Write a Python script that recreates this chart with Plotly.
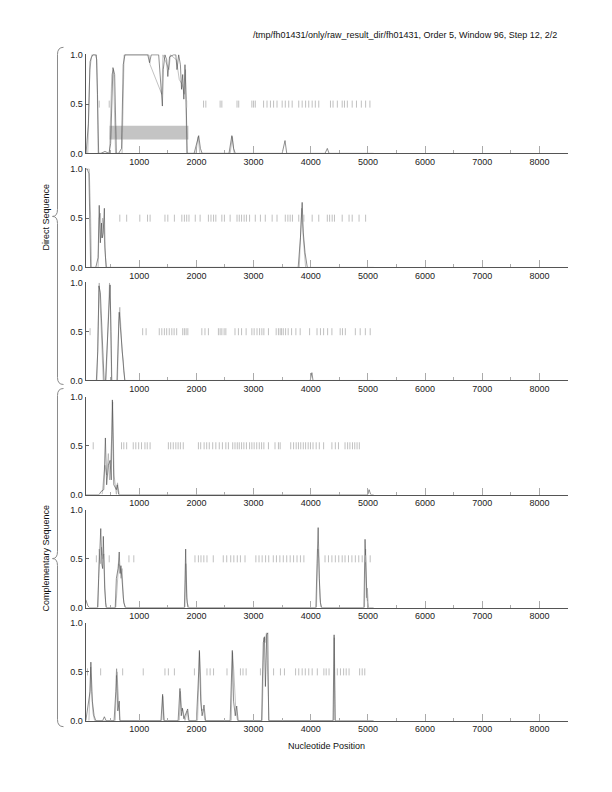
import plotly.graph_objects as go

# ---------------- data ----------------
title_text = "/tmp/fh01431/only/raw_result_dir/fh01431, Order 5, Window 96, Step 12, 2/2"
x_tick_vals = [1000, 2000, 3000, 4000, 5000, 6000, 7000, 8000]
x_tick_text = ["1000", "2000", "3000", "4000", "5000", "6000", "7000", "8000"]
x_minor_vals = [500, 1500, 2500, 3500, 4500, 5500, 6500, 7500]
y_tick_vals = [0.0, 0.5, 1.0]
y_tick_text = ["0.0", "0.5", "1.0"]
x_range = [60, 8500]

# panel 1 (direct, frame 1)
p1_black_x = [70, 110, 140, 160, 190, 250, 270, 290, 330, 400, 470, 500, 540, 570, 600, 640, 690, 720, 750, 1150, 1180, 1210, 1340, 1380, 1405, 1420, 1450, 1480, 1500, 1530, 1600, 1640, 1660, 1690, 1720, 1740, 1760, 1780, 1800, 1820, 1840, 1960, 2000, 2040, 2070, 2100, 2570, 2620, 2650, 2680, 3500, 3550, 3580, 4250, 4290, 4320, 5100]
p1_black_y = [0, 0.3, 0.93, 0.97, 1.0, 1.0, 0.6, 0, 0, 0.02, 0, 0.1, 0.87, 0.8, 0, 0, 0.05, 0.9, 1.0, 1.0, 0.92, 1.0, 1.0, 0.7, 0.48, 0.85, 1.0, 0.95, 0.78, 0.98, 1.0, 1.0, 0.85, 1.0, 0.9, 0.65, 0.8, 0.55, 0.9, 0.55, 0, 0, 0.1, 0.18, 0.05, 0, 0, 0.18, 0.05, 0, 0, 0.13, 0, 0, 0.05, 0, 0]
p1_gray_x = [100, 135, 170, 230, 260, 280, 480, 520, 550, 585, 700, 735, 1170, 1190, 1395, 1415, 1520, 1545, 1650, 1700, 1750, 1790, 1810, 1830, 1990, 2030, 2060, 2590, 2630, 2660]
p1_gray_y = [0, 0.85, 1.0, 1.0, 0.95, 0, 0, 0.8, 0.85, 0, 0, 1.0, 1.0, 0.9, 0.6, 1.0, 0.85, 1.0, 0.95, 0.75, 0.7, 0.6, 0.85, 0, 0, 0.17, 0, 0, 0.17, 0]
gene_x = [480, 1860]
gene_y = [0.14, 0.28]
p1_stops = [300, 475, 1830, 2125, 2165, 2415, 2445, 2710, 2740, 2970, 3000, 3030, 3175, 3235, 3295, 3350, 3410, 3500, 3555, 3615, 3675, 3790, 3850, 3910, 3965, 4025, 4080, 4140, 4345, 4390, 4465, 4550, 4590, 4640, 4725, 4800, 4885, 4960, 5035]

# panel 2
p2_black_x = [66, 90, 120, 135, 150, 240, 260, 280, 300, 320, 340, 355, 370, 390, 400, 420, 3780, 3820, 3850, 3870, 3900, 3940, 5100]
p2_black_y = [1.0, 1.0, 0.95, 0.4, 0, 0, 0.05, 0.1, 0.63, 0.25, 0.45, 0.3, 0.35, 0.6, 0.2, 0, 0, 0.3, 0.66, 0.35, 0.15, 0, 0]
p2_gray_x = [66, 100, 125, 150, 165, 280, 300, 320, 340, 360, 380, 410, 430, 3800, 3840, 3870, 3910]
p2_gray_y = [1.0, 1.0, 1.0, 0.5, 0, 0, 0.5, 0.55, 0.3, 0.5, 0.4, 0.1, 0, 0, 0.6, 0.3, 0]
p2_stops = [660, 780, 1010, 1145, 1190, 1450, 1500, 1615, 1745, 1790, 1830, 1870, 1980, 2065, 2210, 2255, 2300, 2340, 2445, 2490, 2590, 2710, 2750, 2790, 2835, 2875, 2930, 3030, 3120, 3205, 3325, 3410, 3555, 3600, 3640, 3680, 3790, 3880, 4025, 4140, 4290, 4330, 4375, 4415, 4550, 4670, 4725, 4845, 4960]

# panel 3
p3_black_x = [66, 250, 275, 295, 320, 360, 385, 410, 440, 470, 490, 505, 520, 610, 630, 650, 670, 690, 710, 730, 750, 3990, 4020, 4040, 5100]
p3_black_y = [0, 0, 0.3, 0.97, 0.9, 0.3, 0, 0, 0.4, 0.85, 0.98, 0.5, 0, 0, 0.3, 0.7, 0.55, 0.4, 0.2, 0.1, 0, 0, 0.08, 0, 0]
p3_gray_x = [260, 285, 300, 330, 370, 420, 450, 480, 500, 515, 620, 640, 660, 680, 700, 720, 745]
p3_gray_y = [0, 0.5, 1.0, 0.6, 0, 0, 0.55, 1.0, 0.7, 0, 0, 0.6, 0.75, 0.5, 0.3, 0.2, 0]
p3_stops = [140, 1060, 1120, 1350, 1395, 1440, 1480, 1525, 1570, 1610, 1655, 1760, 1790, 1820, 1850, 2095, 2150, 2210, 2385, 2415, 2445, 2485, 2515, 2675, 2735, 2790, 2870, 2970, 3010, 3060, 3105, 3145, 3180, 3260, 3395, 3435, 3465, 3490, 3520, 3560, 3605, 3665, 3740, 3815, 3980, 4110, 4170, 4225, 4295, 4370, 4515, 4555, 4605, 4780, 4865, 4955, 5040]

# panel 4
p4_black_x = [66, 300, 330, 380, 408, 430, 460, 490, 510, 530, 555, 600, 615, 640, 5000, 5020, 5050, 5100]
p4_black_y = [0, 0, 0.03, 0.05, 0.58, 0.1, 0.3, 0.35, 0.15, 0.97, 0.1, 0.05, 0.1, 0, 0, 0.05, 0, 0]
p4_gray_x = [350, 400, 430, 460, 480, 520, 535, 560, 600, 620, 650]
p4_gray_y = [0, 0.3, 0.2, 0.42, 0.15, 0.6, 0.95, 0.2, 0, 0.12, 0]
p4_stops = [195, 690, 730, 780, 895, 940, 990, 1040, 1100, 1140, 1190, 1510, 1550, 1595, 1640, 1680, 1720, 1770, 2035, 2075, 2135, 2180, 2225, 2285, 2340, 2400, 2455, 2515, 2560, 2635, 2675, 2715, 2750, 2790, 2830, 2875, 2930, 2970, 3010, 3055, 3100, 3140, 3180, 3260, 3375, 3435, 3465, 3650, 3700, 3745, 3785, 3825, 3870, 3910, 3955, 3995, 4040, 4095, 4150, 4225, 4370, 4430, 4485, 4600, 4645, 4685, 4730, 4770, 4810, 4850]

# panel 5
p5_black_x = [66, 100, 130, 270, 290, 310, 327, 345, 360, 372, 395, 420, 580, 600, 630, 650, 665, 680, 700, 730, 760, 1790, 1812, 1830, 1850, 4090, 4110, 4130, 4150, 4170, 4190, 4930, 4950, 4965, 4980, 5000, 5100]
p5_black_y = [0.08, 0.02, 0, 0, 0.3, 0.6, 0.81, 0.45, 0.4, 0.73, 0.2, 0, 0, 0.3, 0.4, 0.57, 0.35, 0.43, 0.25, 0.05, 0, 0, 0.6, 0.1, 0, 0, 0.45, 0.82, 0.3, 0.05, 0, 0, 0.7, 0.3, 0.15, 0, 0]
p5_gray_x = [280, 300, 320, 340, 360, 380, 410, 430, 590, 620, 640, 660, 680, 700, 720, 750, 1800, 1815, 1840, 1870, 4100, 4125, 4140, 4160, 4180, 4940, 4960, 4975, 4990, 5010]
p5_gray_y = [0, 0.6, 0.45, 0.62, 0.5, 0.55, 0.05, 0, 0, 0.35, 0.45, 0.42, 0.3, 0.4, 0.1, 0, 0, 0.45, 0.05, 0, 0, 0.6, 0.5, 0.1, 0, 0, 0.6, 0.1, 0.2, 0]
p5_stops = [250, 350, 475, 820, 905, 1975, 2035, 2080, 2130, 2185, 2295, 2470, 2530, 2600, 2655, 2715, 2770, 2850, 3040, 3095, 3150, 3210, 3265, 3345, 3400, 3460, 3520, 3580, 3640, 3700, 3760, 3820, 3880, 4250, 4310, 4370, 4430, 4490, 4550, 4600, 4660, 4720, 4780, 4840, 4900, 4960, 5040]

# panel 6
p6_black_x = [66, 140, 154, 180, 210, 240, 360, 390, 420, 560, 590, 603, 625, 650, 662, 1380, 1409, 1430, 1680, 1712, 1735, 1753, 1780, 1847, 1870, 2000, 2040, 2052, 2075, 2100, 2133, 2160, 2590, 2628, 2650, 2680, 2705, 2730, 3140, 3170, 3190, 3207, 3230, 3248, 3265, 4390, 4409, 4425, 5100]
p6_black_y = [0, 0.3, 0.6, 0.2, 0.05, 0, 0, 0.04, 0, 0, 0.3, 0.53, 0.1, 0.2, 0, 0, 0.27, 0, 0, 0.33, 0.05, 0.13, 0.02, 0.12, 0, 0, 0.5, 0.72, 0.2, 0.05, 0.16, 0, 0, 0.72, 0.2, 0.05, 0.15, 0, 0, 0.8, 0.86, 0.35, 0.88, 0.9, 0, 0, 0.88, 0, 0]
p6_gray_x = [120, 150, 165, 190, 220, 580, 610, 630, 660, 1395, 1412, 1440, 1700, 1720, 1745, 1760, 1800, 1840, 1860, 2020, 2055, 2070, 2090, 2120, 2150, 2610, 2632, 2655, 2690, 2720, 3150, 3180, 3200, 3225, 3250, 3270, 4400, 4412, 4430]
p6_gray_y = [0, 0.55, 0.3, 0.08, 0, 0, 0.5, 0.25, 0, 0, 0.25, 0, 0, 0.3, 0.1, 0.12, 0, 0.1, 0, 0, 0.7, 0.5, 0.1, 0.12, 0, 0, 0.7, 0.5, 0.1, 0, 0, 0.85, 0.8, 0.9, 0.2, 0, 0, 0.85, 0]
p6_stops = [95, 325, 605, 710, 1070, 1450, 1510, 1615, 1965, 2185, 2240, 2300, 2535, 2770, 2815, 2870, 3120, 3350, 3470, 3540, 3735, 3790, 3850, 3905, 3965, 4025, 4115, 4230, 4270, 4320, 4465, 4520, 4575, 4620, 4670, 4855, 4900, 4945]

panels = [
    (p1_black_x, p1_black_y, p1_gray_x, p1_gray_y, p1_stops),
    (p2_black_x, p2_black_y, p2_gray_x, p2_gray_y, p2_stops),
    (p3_black_x, p3_black_y, p3_gray_x, p3_gray_y, p3_stops),
    (p4_black_x, p4_black_y, p4_gray_x, p4_gray_y, p4_stops),
    (p5_black_x, p5_black_y, p5_gray_x, p5_gray_y, p5_stops),
    (p6_black_x, p6_black_y, p6_gray_x, p6_gray_y, p6_stops),
]

# ---------------- layout ----------------
W, H = 612, 792
X_LEFT, X_RIGHT = 85.5, 568
panel_px = [(55, 154), (169, 268), (283, 381), (397, 495), (510, 608), (623, 721)]
FONT = "Liberation Sans"
V_STRETCH = 1.012  # compensates the slight vertical squeeze seen in the capture

def px2x(p):
    return p / W

def py2y(p):
    return 1 - (H / 2 + (p - H / 2) * V_STRETCH) / H

fig = go.Figure()
layout = dict(
    width=W, height=H, margin=dict(l=0, r=0, t=0, b=0),
    paper_bgcolor="white", plot_bgcolor="white", showlegend=False,
    font=dict(family=FONT, size=9, color="#222"),
)

for i, (bx, by, gx, gy, stops) in enumerate(panels):
    n = i + 1
    xa = "x" if n == 1 else f"x{n}"
    ya = "y" if n == 1 else f"y{n}"
    fig.add_trace(go.Scatter(x=gx, y=gy, mode="lines", line=dict(color="#a8a8a8", width=0.7),
                             xaxis=xa, yaxis=ya, hoverinfo="skip"))
    fig.add_trace(go.Scatter(x=bx, y=by, mode="lines", line=dict(color="#444444", width=0.6),
                             xaxis=xa, yaxis=ya, hoverinfo="skip"))
    fig.add_trace(go.Scatter(x=stops, y=[0.5] * len(stops), mode="markers",
                             marker=dict(symbol="line-ns", size=5, line=dict(color="#b0b0b0", width=0.8)),
                             xaxis=xa, yaxis=ya, hoverinfo="skip"))
    top, bot = panel_px[i]
    xkey = "xaxis" if n == 1 else f"xaxis{n}"
    ykey = "yaxis" if n == 1 else f"yaxis{n}"
    layout[xkey] = dict(
        domain=[px2x(X_LEFT), px2x(X_RIGHT)], range=x_range, anchor=ya,
        showline=True, linecolor="#555", linewidth=1, showgrid=False, zeroline=False,
        ticks="inside", ticklen=7, tickcolor="#aaa", tickwidth=1,
        tickvals=x_tick_vals, ticktext=x_tick_text, tickfont=dict(size=9, color="#222"),
        minor=dict(tickvals=x_minor_vals, ticks="inside", ticklen=3, tickcolor="#aaa"),
    )
    layout[ykey] = dict(
        domain=[py2y(bot), py2y(top)], range=[0, 1.005], anchor=xa,
        showline=True, linecolor="#555", linewidth=1, showgrid=False, zeroline=False,
        ticks="inside", ticklen=3, tickcolor="#666",
        tickvals=y_tick_vals, ticktext=y_tick_text, tickfont=dict(size=9, color="#222"),
    )

fig.update_layout(**layout)

# predicted gene region (gray bar) in panel 1
fig.add_shape(type="rect", xref="x", yref="y", x0=gene_x[0], x1=gene_x[1], y0=gene_y[0], y1=gene_y[1],
              fillcolor="#c4c4c4", line=dict(width=0), layer="below")

# braces
def brace(y_top, y_tip, y_bot, x_line=57.5, x_end=63.5, x_tip=52.5, r=7):
    P = lambda x, y: f"{px2x(x):.5f},{py2y(y):.5f}"
    return (f"M {P(x_end, y_top)} Q {P(x_line, y_top)} {P(x_line, y_top + r)} "
            f"L {P(x_line, y_tip - r)} Q {P(x_line, y_tip)} {P(x_tip, y_tip)} "
            f"Q {P(x_line, y_tip)} {P(x_line, y_tip + r)} "
            f"L {P(x_line, y_bot - r)} Q {P(x_line, y_bot)} {P(x_end, y_bot)}")

for (yt, ytip, yb) in [(48, 217, 385), (389, 559, 727)]:
    fig.add_shape(type="path", xref="paper", yref="paper", path=brace(yt, ytip, yb),
                  line=dict(color="#8a8a8a", width=1))

annotations = [
    dict(text=title_text, x=px2x(559), y=py2y(36), xref="paper", yref="paper",
         xanchor="right", yanchor="middle", showarrow=False, font=dict(size=9, color="#111")),
    dict(text="Nucleotide Position", x=px2x(326), y=py2y(746), xref="paper", yref="paper",
         xanchor="center", yanchor="middle", showarrow=False, font=dict(size=9, color="#111")),
    dict(text="Direct Sequence", x=px2x(46), y=py2y(218), xref="paper", yref="paper",
         textangle=-90, xanchor="center", yanchor="middle", showarrow=False, font=dict(size=9, color="#111")),
    dict(text="Complementary Sequence", x=px2x(46), y=py2y(559), xref="paper", yref="paper",
         textangle=-90, xanchor="center", yanchor="middle", showarrow=False, font=dict(size=9, color="#111")),
]
fig.update_layout(annotations=annotations)

page_fix = (
    "document.documentElement.style.margin='0';document.documentElement.style.padding='0';"
    "document.documentElement.style.height='792px';document.documentElement.style.overflow='hidden';"
    "document.body.style.margin='0';document.body.style.padding='0';"
    "document.body.style.height='792px';document.body.style.overflow='hidden';"
)
fig.write_html("out.html", config={"displayModeBar": False}, post_script=page_fix)
